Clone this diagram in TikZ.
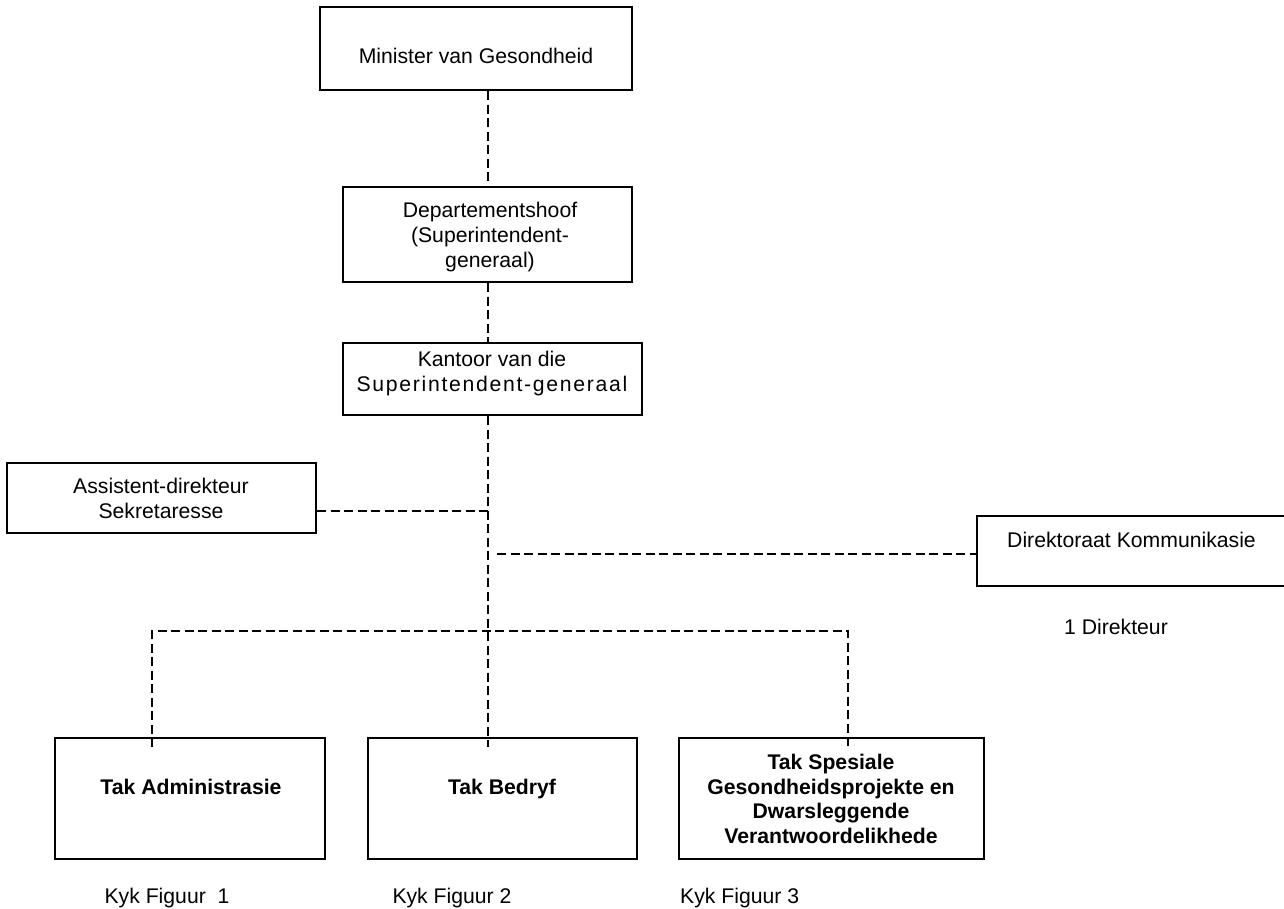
\documentclass[tikz,border=0pt]{standalone}
\usepackage{fontspec}
\setmainfont{Liberation Sans}
\begin{document}
\begin{tikzpicture}[x=1pt,y=-1pt,
  box/.style={draw, line width=2pt, inner sep=0pt},
  lbl/.style={font=\fontsize{21.2}{25}\selectfont, align=center, inner sep=0pt},
  blbl/.style={lbl, font=\fontsize{21.2}{24.7}\selectfont\bfseries},
  conn/.style={line width=2pt, dash pattern=on 9pt off 4.5pt}]
\useasboundingbox (0,0) rectangle (1284,908);

% boxes
\node[box, minimum width=312pt, minimum height=83pt] (min) at (476,48.5) {};
\node[box, minimum width=289pt, minimum height=95pt] (dept) at (487.5,234.5) {};
\node[box, minimum width=299pt, minimum height=72pt] (kant) at (492.5,379) {};
\node[box, minimum width=309pt, minimum height=70pt] (asst) at (161.5,498) {};
\node[box, minimum width=313pt, minimum height=70pt] (dirk) at (1133.5,551) {};
\node[box, minimum width=270pt, minimum height=121pt] (adm) at (190,798.5) {};
\node[box, minimum width=269pt, minimum height=121pt] (bed) at (502.5,798.5) {};
\node[box, minimum width=305pt, minimum height=121pt] (spe) at (831.5,798.5) {};

% texts
\node[lbl, anchor=base] (minT) at (476,63) {Minister van Gesondheid};
\node[lbl] (deptT) at (490,237) {Departementshoof\\(Superintendent-\\generaal)};
\node[lbl] (kantT) at (492,374) {Kantoor van die\\{\addfontfeature{LetterSpace=8}Superintendent-generaal}};
\node[lbl] (asstT) at (161,498.5) {Assistent-direkteur\\Sekretaresse};
\node[lbl, anchor=base west] (dirkT) at (1007,547) {Direktoraat Kommunikasie};
\node[lbl, anchor=base] (dirN) at (1116,634) {1 Direkteur};
\node[blbl, anchor=base] (admT) at (191,794) {Tak Administrasie};
\node[blbl, anchor=base] (bedT) at (502,794) {Tak Bedryf};
\node[blbl] (speT) at (831,799) {Tak Spesiale\\Gesondheidsprojekte en\\Dwarsleggende\\Verantwoordelikhede};
\node[lbl, anchor=base] (kyk1) at (167,903) {Kyk Figuur\ \ 1};
\node[lbl, anchor=base] (kyk2) at (452,903) {Kyk Figuur 2};
\node[lbl, anchor=base west] (kyk3) at (680,903) {Kyk Figuur 3};

% junction coordinates
\coordinate (aj) at (488,511);
\coordinate (dj) at (497,554);
\coordinate (bl) at (152,631);
\coordinate (br) at (848,631);

% connectors
\draw[conn] (dept.north |- min.south) -- (dept.north);
\draw[conn] (dept.south) -- (dept.south |- kant.north);
\draw[conn] (dept.south |- kant.south) -- ([yshift=-10pt]dept.south |- bed.north);
\draw[conn] (aj -| asst.east) -- (aj);
\draw[conn] (dj) -- (dj -| dirk.west);
\draw[conn] ([yshift=-10pt]bl |- adm.north) -- (bl) -- (br) -- ([yshift=-10pt]br |- spe.north);
\end{tikzpicture}
\end{document}
